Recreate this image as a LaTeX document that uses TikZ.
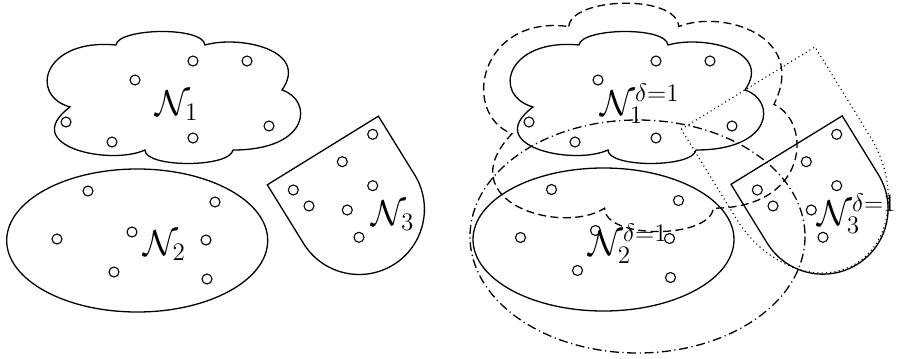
\RequirePackage{fix-cm}
\documentclass[tikz,border=0pt]{standalone}
\newcommand{\cloudshape}[1]{\draw[#1] (116,45) .. controls (118,28) and (203,26) .. (205,45)
  .. controls (240,35) and (310,50) .. (282,90)
  .. controls (313,100) and (311,150) .. (233,150)
  .. controls (230,168) and (145,168) .. (145,150)
  .. controls (110,166) and (18,146) .. (70,107)
  .. controls (28,95) and (44,38) .. (116,45) -- cycle;}
\newcommand{\shieldshape}[1]{\draw[#1] (0,0) -- (130.6,0) -- (130.6,69)
  .. controls (130.6,105) and (101.4,134.3) .. (65.3,134.3)
  .. controls (29.2,134.3) and (0,105) .. (0,69) -- cycle;}
\begin{document}
\begin{tikzpicture}[x=0.5pt,y=-0.5pt,line width=0.65pt,
  dotnode/.style={draw,circle,inner sep=0pt,minimum size=5pt,line width=0.55pt},
  lbl/.style={anchor=base,inner sep=0pt,font=\fontsize{18}{21}\selectfont},
  dsh/.style={dash pattern=on 4pt off 2.2pt},
  dshdot/.style={dash pattern=on 4.5pt off 1.8pt on 0.6pt off 1.8pt},
  dtt/.style={line width=0.55pt,dash pattern=on 0.55pt off 1.6pt}]
\useasboundingbox (0,0) rectangle (901,359);
% ---------- left picture ----------
\cloudshape{}
\draw (137.2,240.5) ellipse [x radius=130.5, y radius=71.5];
\begin{scope}[shift={(267.3,184.8)},rotate=31.7]
  \shieldshape{}
\end{scope}
\foreach \x/\y [count=\i] in {135/80,193/61,247/61,66/122,112/142,193/138,269/126}
  \node[dotnode] (pa\i) at (\x,\y) {};
\foreach \x/\y [count=\i] in {88/191,215/202,57/239,132/232,206/240,114/272,207/279}
  \node[dotnode] (pb\i) at (\x,\y) {};
\foreach \x/\y [count=\i] in {372.7/134.3,342.3/161.7,293.3/190,372.7/185.7,309/206,347.3/210,359/237.3}
  \node[dotnode] (pc\i) at (\x,\y) {};
\node[lbl] (l1) at (177,115) {$\mathcal{N}_1$};
\node[lbl] (l2) at (164.5,255) {$\mathcal{N}_2$};
\node[lbl] (l3) at (393,225) {$\mathcal{N}_3$};
% ---------- right picture ----------
\begin{scope}[shift={(463,0)}]
  \cloudshape{}
  \foreach \x/\y [count=\i] in {135/80,193/61,247/61,66/122,112/142,193/138,269/126}
    \node[dotnode] (qa\i) at (\x,\y) {};
\end{scope}
\begin{scope}[shift={(425.4,-51.3)},xscale=1.236,yscale=1.73]
  \cloudshape{dsh}
\end{scope}
\draw (603.5,239.5) ellipse [x radius=130.5, y radius=71.5];
\draw[dshdot] (637.5,236.5) ellipse [x radius=167.5, y radius=116.5];
\begin{scope}[shift={(463.5,-1.5)}]
  \foreach \x/\y [count=\i] in {88/191,215/202,57/239,132/232,206/240,114/272,207/279}
    \node[dotnode] (qb\i) at (\x,\y) {};
\end{scope}
\begin{scope}[shift={(731,184.3)},rotate=31.6]
  \shieldshape{}
  \draw[dtt] (-13.5,-73) -- (143.5,-73) -- (143.5,32)
    .. controls (143.5,87.8) and (108.4,133) .. (65,133)
    .. controls (21.6,133) and (-13.5,87.8) .. (-13.5,32) -- cycle;
\end{scope}
\begin{scope}[shift={(464,0)}]
  \foreach \x/\y [count=\i] in {372.7/134.3,342.3/161.7,293.3/190,372.7/185.7,309/206,347.3/210,359/237.3}
    \node[dotnode] (qc\i) at (\x,\y) {};
\end{scope}
\node[lbl] (r1) at (640,115) {$\mathcal{N}_1^{\delta=1}$};
\node[lbl] (r2) at (628,255) {$\mathcal{N}_2^{\delta=1}$};
\node[lbl] (r3) at (857,225) {$\mathcal{N}_3^{\delta=1}$};
\end{tikzpicture}
\end{document}
